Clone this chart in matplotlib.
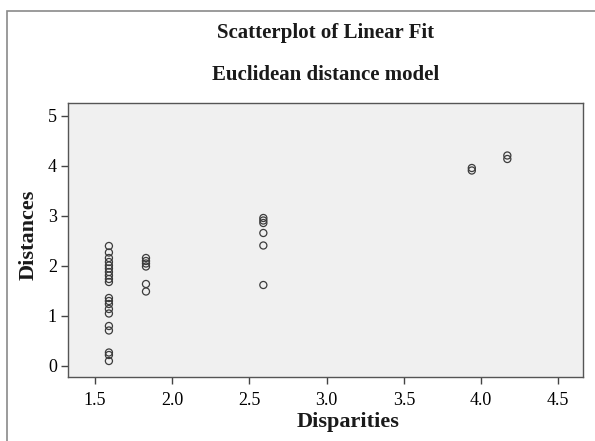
import matplotlib.pyplot as plt
from matplotlib.patches import Rectangle

plt.switch_backend('agg')

# Data
x_col1 = [1.59] * 20
y_col1 = [2.40, 2.27, 2.16, 2.08, 2.01, 1.95, 1.88, 1.81, 1.74, 1.68,
          1.36, 1.30, 1.24, 1.14, 1.05, 0.80, 0.71, 0.27, 0.22, 0.10]
x_col2 = [1.83] * 6
y_col2 = [2.16, 2.10, 2.05, 1.99, 1.64, 1.49]
x_col3 = [2.59] * 6
y_col3 = [2.96, 2.91, 2.86, 2.66, 2.41, 1.62]
x_col4 = [3.94] * 2
y_col4 = [3.91, 3.96]
x_col5 = [4.17] * 2
y_col5 = [4.14, 4.21]

disparities = x_col1 + x_col2 + x_col3 + x_col4 + x_col5
distances = y_col1 + y_col2 + y_col3 + y_col4 + y_col5

x_ticks = [1.5, 2.0, 2.5, 3.0, 3.5, 4.0, 4.5]
y_ticks = [0, 1, 2, 3, 4, 5]

serif = 'Liberation Serif'

fig = plt.figure(figsize=(5.95, 4.41), dpi=100)
fig.patch.set_facecolor('white')

# outer chart frame (runs off right/bottom edges like the reference)
fig.patches.append(Rectangle((7 / 595, -0.05), 1.2, 1 - 11 / 441 + 0.05,
                             transform=fig.transFigure, fill=False,
                             edgecolor='#8a8a8a', linewidth=1.2))

ax = fig.add_axes([68 / 595, 1 - 377 / 441, (583 - 68) / 595, (377 - 103) / 441])
ax.set_facecolor('#f0f0f0')

ax.scatter(disparities, distances, s=26, facecolors='none',
           edgecolors='#3c3c3c', linewidths=0.9, zorder=3)

ax.set_xlim(1.325, 4.66)
ax.set_ylim(-0.22, 5.26)
ax.set_xticks(x_ticks)
ax.set_xticklabels([f'{v:.1f}' for v in x_ticks], fontfamily=serif, fontsize=13)
ax.set_yticks(y_ticks)
ax.set_yticklabels([str(v) for v in y_ticks], fontfamily=serif, fontsize=13)
ax.tick_params(direction='out', length=5, width=1, color='#444444')
ax.tick_params(axis='x', pad=6)
ax.tick_params(axis='y', pad=3)

for side in ['left', 'bottom', 'top', 'right']:
    ax.spines[side].set_color('#555555')
    ax.spines[side].set_linewidth(1.0)

ax.set_xlabel('Disparities', fontfamily=serif, fontsize=16, fontweight='bold',
              color='#1a1a1a')
ax.xaxis.set_label_coords(0.544, -0.128)
ax.set_ylabel('Distances', fontfamily=serif, fontsize=16, fontweight='bold',
              color='#1a1a1a')
ax.yaxis.set_label_coords(-0.058, 0.518)

cx = (68 + 583) / 2 / 595
fig.text(cx, 1 - 33 / 441, 'Scatterplot of Linear Fit', ha='center', va='center',
         fontfamily=serif, fontsize=15, fontweight='bold', color='#1a1a1a')
fig.text(cx, 1 - 75 / 441, 'Euclidean distance model', ha='center', va='center',
         fontfamily=serif, fontsize=15, fontweight='bold', color='#1a1a1a')

fig.savefig('out.png', dpi=100)
plt.close(fig)
